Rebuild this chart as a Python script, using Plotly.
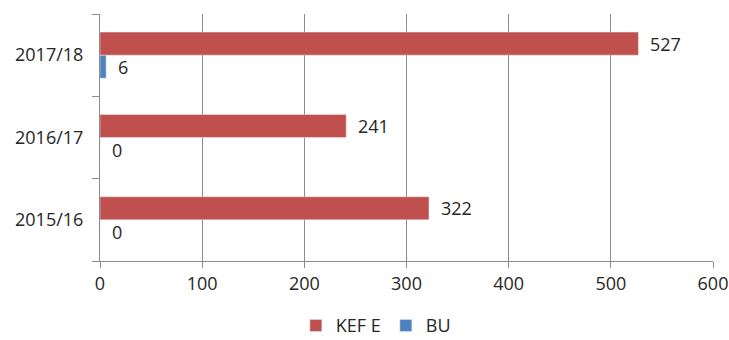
import plotly.graph_objects as go

# Data
seasons = ["2015/16", "2016/17", "2017/18"]
kef_e = [322, 241, 527]
bu = [0, 0, 6]
x_ticks = [0, 100, 200, 300, 400, 500, 600]

RED = "#C0504D"
BLUE = "#4F81BD"
GRID = "#8C8C8C"
TEXT = "#262626"
FONT = "Open Sans"

fig = go.Figure()
# BU first so that it sits below KEF E inside each group
fig.add_trace(go.Bar(y=seasons, x=bu, name="BU", orientation="h",
                     marker=dict(color=BLUE), legendrank=2))
fig.add_trace(go.Bar(y=seasons, x=kef_e, name="KEF E", orientation="h",
                     marker=dict(color=RED), legendrank=1))

# Value labels to the right of each bar
annotations = []
for s, v in zip(seasons, kef_e):
    annotations.append(dict(x=v, y=s, text=str(v), xref="x", yref="y",
                            xanchor="left", yanchor="middle", showarrow=False,
                            xshift=10, yshift=11.5,
                            font=dict(family=FONT, size=18, color=TEXT)))
for s, v in zip(seasons, bu):
    annotations.append(dict(x=v, y=s, text=str(v), xref="x", yref="y",
                            xanchor="left", yanchor="middle", showarrow=False,
                            xshift=10, yshift=-12,
                            font=dict(family=FONT, size=18, color=TEXT)))

fig.update_layout(
    width=729, height=340,
    margin=dict(l=100, r=16, t=14, b=79, autoexpand=False),
    paper_bgcolor="white", plot_bgcolor="white",
    barmode="group", bargap=0.44, bargroupgap=0,
    font=dict(family=FONT, size=18, color=TEXT),
    annotations=annotations,
    showlegend=True,
    legend=dict(orientation="h", x=0.45, xanchor="center",
                y=-0.262, yanchor="middle",
                font=dict(family=FONT, size=18, color=TEXT),
                itemwidth=30, tracegroupgap=0),
    xaxis=dict(range=[0, 600], tickvals=x_ticks, ticktext=[str(t) for t in x_ticks],
               showgrid=True, gridcolor=GRID, gridwidth=1,
               showline=True, linecolor=GRID, linewidth=1,
               ticks="outside", ticklen=6, tickcolor=GRID,
               zeroline=False, fixedrange=True, automargin=False,
               tickfont=dict(family=FONT, size=18, color=TEXT)),
    yaxis=dict(categoryorder="array", categoryarray=seasons,
               showgrid=False, showline=True, linecolor=GRID, linewidth=1,
               ticks="outside", ticklen=7, tickcolor=GRID,
               tickson="boundaries", ticklabelstandoff=12, automargin=False,
               tickfont=dict(family=FONT, size=18, color=TEXT)),
)

fig.write_html("out.html")
